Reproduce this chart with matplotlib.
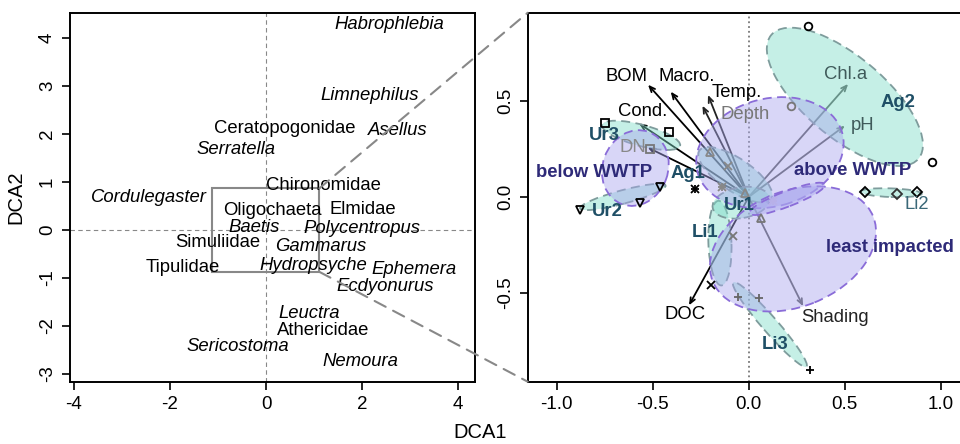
import matplotlib
matplotlib.use("Agg")
import matplotlib.pyplot as plt
from matplotlib.colors import to_rgba
from matplotlib.patches import Ellipse, Rectangle, ConnectionPatch
from matplotlib.ticker import FormatStrFormatter

plt.rcParams["font.family"] = ["Liberation Sans", "DejaVu Sans"]
plt.rcParams["axes.unicode_minus"] = False

# ---- left panel: species scores (DCA) ----
species = ["Habrophlebia", "Limnephilus", "Ceratopogonidae", "Asellus", "Serratella",
           "Chironomidae", "Cordulegaster", "Oligochaeta", "Elmidae", "Baetis",
           "Polycentropus", "Simuliidae", "Gammarus", "Tipulidae", "Hydropsyche",
           "Ephemera", "Ecdyonurus", "Leuctra", "Athericidae", "Sericostoma", "Nemoura"]
sp_x = [2.57, 2.15, 0.39, 2.74, -0.63, 1.19, -2.43, 0.14, 2.01, -0.24,
        2.00, -1.01, 1.13, -1.74, 0.99, 3.07, 2.49, 0.89, 1.18, -0.58, 1.96]
sp_y = [4.29, 2.81, 2.12, 2.08, 1.68, 0.92, 0.68, 0.40, 0.43, 0.05,
        0.03, -0.26, -0.35, -0.78, -0.73, -0.82, -1.17, -1.74, -2.10, -2.43, -2.74]
sp_italic = [True, True, False, True, True, False, True, False, False, True,
             True, False, True, False, True, True, True, True, False, True, True]

# ---- right panel: environmental vectors ----
env = ["BOM", "Macro.", "Temp.", "Depth", "Cond.", "DN", "Chl.a", "pH", "DOC", "Shading"]
env_x = [-0.524, -0.406, -0.212, -0.241, -0.571, -0.526, 0.517, 0.500, -0.311, 0.283]
env_y = [0.583, 0.547, 0.530, 0.474, 0.382, 0.257, 0.587, 0.370, -0.563, -0.568]
env_lab_x = [-0.634, -0.325, -0.064, -0.021, -0.554, -0.602, 0.505, 0.592, -0.333, 0.448]
env_lab_y = [0.625, 0.625, 0.543, 0.430, 0.443, 0.257, 0.635, 0.370, -0.611, -0.625]
env_col = ["black", "black", "black", "#777777", "black", "#888888",
           "#3f5a5a", "#3f5a5a", "black", "#222222"]
arrow_col = ["black", "black", "#222222", "#222222", "black", "black",
             "#555555", "#555555", "black", "#555555"]

# ---- site scores by group ----
site_group = ["Ag2", "Ag2", "Ag2", "Ur3", "Ur3", "Ur3", "Ur2", "Ur2", "Ur2",
              "Li2", "Li2", "Li2", "Li3", "Li3", "Li3", "Li1", "Li1", "Li1",
              "Ag1", "Ag1", "Ag1", "Ur1", "Ur1", "Ur1"]
site_x = [0.309, 0.222, 0.955, -0.750, -0.417, -0.516, -0.880, -0.564, -0.464,
          0.604, 0.769, 0.873, -0.056, 0.054, 0.318, -0.082, -0.194, -0.110,
          -0.281, -0.140, 0.127, 0.066, -0.203, -0.020]
site_y = [0.890, 0.474, 0.179, 0.384, 0.339, 0.248, -0.069, -0.030, 0.052,
          0.028, 0.014, 0.026, -0.521, -0.524, -0.897, -0.203, -0.455, 0.160,
          0.040, 0.050, -0.020, -0.111, 0.231, 0.020]
site_col = ["black", "#777777", "black", "black", "black", "#777777", "black", "black", "black",
            "black", "#333333", "black", "#666666", "#666666", "black", "#777777", "black", "#888888",
            "black", "#888888", "#b8b0e8", "#777777", "#888888", "#888888"]
group_marker = {"Ag2": ["o"], "Ur3": ["s"], "Ur2": ["v"], "Li2": ["D"], "Li3": ["+"],
                "Li1": ["x"], "Ag1": ["+", "x"], "Ur1": ["^"]}

# ---- ellipses: sites (teal) and impact classes (purple) ----
ell_kind = ["site", "site", "site", "site", "site", "site", "site", "site",
            "class", "class", "class", "class"]
ell_cx = [0.50, -0.56, -0.655, 0.740, 0.110, -0.150, -0.070, -0.040,
          -0.590, 0.110, 0.230, 0.200]
ell_cy = [0.52, 0.320, 0.000, 0.022, -0.663, -0.240, 0.115, -0.030,
          0.150, 0.230, -0.270, -0.010]
ell_w = [1.00, 0.42, 0.46, 0.32, 0.58, 0.44, 0.45, 0.30,
         0.40, 0.78, 0.90, 0.42]
ell_h = [0.42, 0.11, 0.07, 0.045, 0.08, 0.12, 0.17, 0.16,
         0.34, 0.56, 0.60, 0.08]
ell_ang = [-40, -15, 15, -2, -49, 92, -34, 10,
           70, 15, 22, 21]

group_lab = ["Ur3", "Ur2", "Ag1", "Ur1", "Ag2", "Li1", "Li3", "Li2"]
group_lab_x = [-0.750, -0.738, -0.316, -0.050, 0.778, -0.229, 0.135, 0.873]
group_lab_y = [0.318, -0.076, 0.121, -0.042, 0.491, -0.186, -0.767, -0.038]
class_lab = ["below WWTP", "above WWTP", "least impacted"]
class_lab_x = [-0.807, 0.540, 0.734]
class_lab_y = [0.127, 0.135, -0.264]

fig = plt.figure(figsize=(9.6, 4.44), dpi=100)
ax1 = fig.add_axes([0.0729, 0.1403, 0.4219, 0.831])
ax2 = fig.add_axes([0.5497, 0.1403, 0.4555, 0.831])

# left panel
ax1.set_xlim(-4.08, 4.35)
ax1.set_ylim(-3.16, 4.53)
ax1.axhline(0, color="#888888", ls=(0, (4, 3)), lw=0.8, zorder=1)
ax1.axvline(0, color="#888888", ls=(0, (4, 3)), lw=0.8, zorder=1)
for name, x, y, it in zip(species, sp_x, sp_y, sp_italic):
    ax1.text(x, y, name, ha="center", va="center", fontsize=13.3,
             style="italic" if it else "normal", zorder=3)
zoom_box = Rectangle((-1.13, -0.87), 2.24, 1.74, fill=False, ec="#888888", lw=1.5, zorder=2)
ax1.add_patch(zoom_box)
ax1.set_xticks([-4, -2, 0, 2, 4])
ax1.set_yticks([-3, -2, -1, 0, 1, 2, 3, 4])
ax1.set_ylabel("DCA2", fontsize=14.5, labelpad=10)
for lab in ax1.get_yticklabels():
    lab.set_rotation(90)
    lab.set_va("center")

# right panel
ax2.set_xlim(-1.15, 1.125)
ax2.set_ylim(-0.96, 0.957)
ax2.axvline(0, color="#777777", ls=":", lw=1.3, zorder=1)

for i in range(len(env)):
    ax2.annotate("", xy=(env_x[i], env_y[i]), xytext=(0, 0),
                 arrowprops=dict(arrowstyle="->,head_length=0.4,head_width=0.17",
                                 color=arrow_col[i], lw=1.3, shrinkA=0, shrinkB=0),
                 zorder=2)
    ax2.text(env_lab_x[i], env_lab_y[i], env[i], color=env_col[i], fontsize=13.3,
             ha="center", va="center", zorder=5)

for k, cx, cy, w, h, a in zip(ell_kind, ell_cx, ell_cy, ell_w, ell_h, ell_ang):
    if k == "site":
        fc, ec = to_rgba("#7fdcc8", 0.45), "#7e9c9c"
    else:
        fc, ec = to_rgba("#a9a6ee", 0.45), "#8a6cd8"
    ax2.add_patch(Ellipse((cx, cy), w, h, angle=a, facecolor=fc, edgecolor=ec,
                          ls=(0, (5, 3)), lw=1.3, zorder=3))

for g, x, y, c in zip(site_group, site_x, site_y, site_col):
    for m in group_marker[g]:
        ax2.plot(x, y, marker=m, ms=5.5, mfc="none", mec=c, mew=1.3,
                 ls="none", zorder=4)

for lab, x, y in zip(group_lab, group_lab_x, group_lab_y):
    bold = lab != "Li2"
    ax2.text(x, y, lab, ha="center", va="center", fontsize=13.3,
             fontweight="bold" if bold else "normal",
             color="#1f4f66" if bold else "#3a6878", zorder=6)
for lab, x, y in zip(class_lab, class_lab_x, class_lab_y):
    ax2.text(x, y, lab, ha="center", va="center", fontsize=13.3,
             fontweight="bold", color="#2e2a78", zorder=6)

ax2.set_xticks([-1.0, -0.5, 0.0, 0.5, 1.0])
ax2.set_yticks([-0.5, 0.0, 0.5])
ax2.xaxis.set_major_formatter(FormatStrFormatter("%.1f"))
ax2.yaxis.set_major_formatter(FormatStrFormatter("%.1f"))
for lab in ax2.get_yticklabels():
    lab.set_rotation(90)
    lab.set_va("center")

for ax in (ax1, ax2):
    for s in ax.spines.values():
        s.set_linewidth(1.4)
    ax.tick_params(direction="out", length=6, width=1.2, labelsize=13.5, pad=4)

# zoom connector lines, drawn over both panels
for corner, target in [((1.11, 0.87), (0, 1)), ((1.11, -0.87), (0, 0))]:
    con = ConnectionPatch(xyA=corner, coordsA=ax1.transData,
                          xyB=target, coordsB=ax2.transAxes,
                          color="#888888", ls=(0, (6, 4)), lw=1.5, zorder=5)
    fig.add_artist(con)

fig.text(0.5, 0.025, "DCA1", ha="center", va="center", fontsize=14.5)

fig.savefig("out.png", dpi=100)
